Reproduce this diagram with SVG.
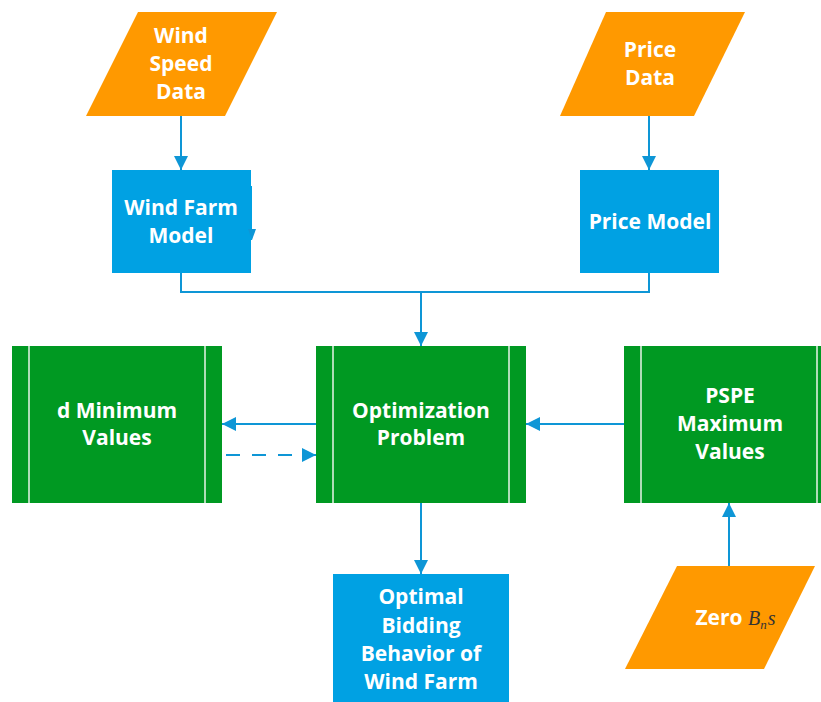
<svg xmlns="http://www.w3.org/2000/svg" width="821" height="702" viewBox="0 0 821 702">
<defs>
<style>
.data{fill:#FF9900;}
.proc{fill:#00A1E3;}
.pre{fill:#009922;}
.sep{stroke:#E8F5E8;stroke-width:1.5;}
.t{font-family:"Open Sans","Noto Sans",sans-serif;font-weight:bold;font-size:21px;fill:#FFFFFF;text-anchor:middle;}
.c{fill:none;stroke:#0E96D6;stroke-width:2;}
.d{stroke-dasharray:14 12;}
</style>
<marker id="ah" viewBox="0 0 14 14" refX="14" refY="7" markerWidth="14" markerHeight="14" markerUnits="userSpaceOnUse" orient="auto">
<path d="M0,0 L14,7 L0,14 Z" fill="#0E96D6"/>
</marker>
</defs>
<rect width="821" height="702" fill="#FFFFFF"/>
<g id="connectors">
<path class="c" d="M181,116 V170" marker-end="url(#ah)"/>
<path class="c" d="M649,116 V170" marker-end="url(#ah)"/>
<path class="c" d="M181,273 V292 H649 V273"/>
<path class="c" d="M421,292 V346" marker-end="url(#ah)"/>
<path class="c" d="M316,424 H222" marker-end="url(#ah)"/>
<path class="c d" d="M226,455 H316" marker-end="url(#ah)"/>
<path class="c" d="M624,424 H526" marker-end="url(#ah)"/>
<path class="c" d="M421,503 V574" marker-end="url(#ah)"/>
<path class="c" d="M729,566 V503" marker-end="url(#ah)"/>
</g>
<g id="wind-speed-data">
<polygon class="data" points="138,12 277,12 225,116 86,116"/>
<text class="t" x="181" y="43">Wind</text>
<text class="t" x="181" y="71">Speed</text>
<text class="t" x="181" y="99">Data</text>
</g>
<g id="price-data">
<polygon class="data" points="606,12 745,12 694,116 560,116"/>
<text class="t" x="650" y="57">Price</text>
<text class="t" x="650" y="85">Data</text>
</g>
<g id="wind-farm-model">
<rect class="proc" x="112" y="170" width="139" height="103"/>
<rect class="proc" x="249" y="186" width="3" height="54"/>
<polygon points="248,229 256,229 252,240" fill="#0E96D6"/>
<text class="t" x="181" y="215">Wind Farm</text>
<text class="t" x="181" y="243">Model</text>
</g>
<g id="price-model">
<rect class="proc" x="580" y="170" width="139" height="103"/>
<text class="t" x="650" y="229">Price Model</text>
</g>
<g id="d-minimum-values">
<rect class="pre" x="12" y="346" width="210" height="157"/>
<line class="sep" x1="29" y1="346" x2="29" y2="503"/>
<line class="sep" x1="205" y1="346" x2="205" y2="503"/>
<text class="t" x="117" y="418">d Minimum</text>
<text class="t" x="117" y="445">Values</text>
</g>
<g id="optimization-problem">
<rect class="pre" x="316" y="346" width="210" height="157"/>
<line class="sep" x1="333" y1="346" x2="333" y2="503"/>
<line class="sep" x1="509" y1="346" x2="509" y2="503"/>
<text class="t" x="421" y="418">Optimization</text>
<text class="t" x="421" y="445">Problem</text>
</g>
<g id="pspe-maximum-values">
<rect class="pre" x="624" y="346" width="210" height="157"/>
<line class="sep" x1="641" y1="346" x2="641" y2="503"/>
<line class="sep" x1="817" y1="346" x2="817" y2="503"/>
<text class="t" x="730" y="403">PSPE</text>
<text class="t" x="730" y="431">Maximum</text>
<text class="t" x="730" y="459">Values</text>
</g>
<g id="optimal-bidding">
<rect class="proc" x="333" y="574" width="176" height="140"/>
<text class="t" x="421" y="604">Optimal</text>
<text class="t" x="421" y="633">Bidding</text>
<text class="t" x="421" y="661">Behavior of</text>
<text class="t" x="421" y="689">Wind Farm</text>
</g>
<g id="zero-bns">
<polygon class="data" points="677,566 815,566 764,669 625,669"/>
<text class="t" x="719" y="625">Zero</text>
<text x="748" y="625" font-family="'Liberation Serif',serif" font-style="italic" font-size="20" fill="#333333">B<tspan font-size="13" dy="4">n</tspan><tspan dy="-4" dx="1">s</tspan></text>
</g>
</svg>
